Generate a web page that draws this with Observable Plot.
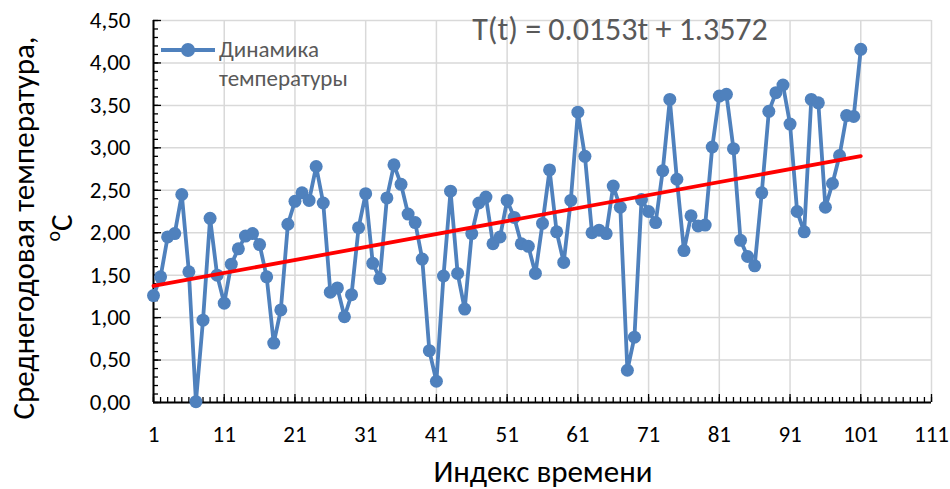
<!DOCTYPE html>
<html>
<head>
<meta charset="utf-8">
<script src="https://cdn.jsdelivr.net/npm/d3@7"></script>
<script src="https://cdn.jsdelivr.net/npm/@observablehq/plot@0.6"></script>
<style>
  html, body { margin: 0; padding: 0; background: #fff; }
  #chart svg { display: block; }
</style>
</head>
<body>
<div id="chart"></div>
<script>
// Time index and yearly mean temperature (°C)
const timeIndex = d3.range(1, 102);
const temperature = [
  1.26, 1.48, 1.95, 1.99, 2.45, 1.54, 0.01, 0.97, 2.17, 1.50,
  1.17, 1.63, 1.81, 1.96, 1.99, 1.86, 1.48, 0.70, 1.09, 2.10,
  2.37, 2.47, 2.38, 2.78, 2.35, 1.30, 1.35, 1.01, 1.27, 2.06,
  2.46, 1.64, 1.46, 2.41, 2.80, 2.57, 2.22, 2.12, 1.69, 0.61,
  0.25, 1.49, 2.49, 1.52, 1.10, 1.99, 2.35, 2.42, 1.87, 1.95,
  2.38, 2.18, 1.87, 1.84, 1.52, 2.11, 2.74, 2.01, 1.65, 2.38,
  3.42, 2.90, 2.00, 2.03, 1.99, 2.55, 2.30, 0.38, 0.77, 2.39,
  2.25, 2.12, 2.73, 3.57, 2.63, 1.79, 2.20, 2.08, 2.09, 3.01,
  3.61, 3.63, 2.99, 1.91, 1.72, 1.61, 2.47, 3.43, 3.65, 3.74,
  3.28, 2.25, 2.01, 3.57, 3.53, 2.30, 2.58, 2.91, 3.38, 3.37,
  4.16
];
// Linear trend T(t) = slope * t + intercept
const trendSlope = 0.0153;
const trendIntercept = 1.3572;
const trendRange = [1, 101];

// Axis ticks
const xTicks = [1, 11, 21, 31, 41, 51, 61, 71, 81, 91, 101, 111];
const xMinorTicks = d3.range(1, 112);
const yTicks = [0, 0.5, 1, 1.5, 2, 2.5, 3, 3.5, 4, 4.5];
const yMinorTicks = d3.range(0, 46).map(d => d / 10);

const series = timeIndex.map((t, i) => ({t, v: temperature[i]}));
const trend = trendRange.map(t => ({t, v: trendSlope * t + trendIntercept}));

const FONT = "Carlito, Lato, 'Open Sans', sans-serif";
const blue = "#4f81bd";

const chart = Plot.plot({
  width: 950,
  height: 489,
  marginLeft: 153,
  marginRight: 19,
  marginTop: 20,
  marginBottom: 87,
  style: {fontFamily: FONT, fontSize: "23px", color: "#000", background: "#fff", overflow: "visible"},
  x: {domain: [1, 111]},
  y: {domain: [0, 4.5]},
  marks: [
    Plot.gridY(yTicks, {stroke: "#d9d9d9", strokeOpacity: 1, strokeWidth: 1.5}),
    Plot.gridX(xTicks, {stroke: "#d9d9d9", strokeOpacity: 1, strokeWidth: 1.5}),
    Plot.axisY(yMinorTicks, {tickSize: -5, tickFormat: () => "", label: null, stroke: "#000", strokeWidth: 1.3}),
    Plot.axisY(yTicks, {tickSize: -8, tickPadding: 31, tickFormat: d => d.toFixed(2).replace(".", ","), label: null, fill: "#000", stroke: "#000", strokeWidth: 1.3, fontSize: 23}),
    Plot.axisX(xMinorTicks, {tickSize: -5, tickFormat: () => "", label: null, stroke: "#000", strokeWidth: 1.3}),
    Plot.axisX(xTicks, {tickSize: -8, tickPadding: 31, tickFormat: d => String(d), label: null, fill: "#000", stroke: "#000", strokeWidth: 1.3, fontSize: 23}),
    Plot.ruleX([1], {stroke: "#000", strokeWidth: 2}),
    Plot.ruleY([0], {stroke: "#000", strokeWidth: 2}),
    Plot.line(series, {x: "t", y: "v", stroke: blue, strokeWidth: 3.8}),
    Plot.dot(series, {x: "t", y: "v", r: 6.5, fill: blue, stroke: "none"}),
    Plot.line(trend, {x: "t", y: "v", stroke: "#ff0000", strokeWidth: 3.8})
  ]
});

document.getElementById("chart").appendChild(chart);

const svg = d3.select(chart);
// Tick labels: enforce size
svg.selectAll("text").style("font-size", "23px").style("font-family", FONT);

// Y axis title (two lines, rotated)
const yTitle = svg.append("text")
  .attr("transform", "translate(34,228) rotate(-90)")
  .style("text-anchor", "middle")
  .style("font-family", FONT)
  .style("font-size", "31px")
  .style("fill", "#000");
yTitle.append("tspan").attr("x", 0).attr("y", 0).text("Среднегодовая температура,");
const l2 = yTitle.append("tspan").attr("x", 0).attr("y", 38);
l2.append("tspan").style("font-size", "20px").attr("dy", -12).text("o");
l2.append("tspan").attr("dy", 12).text("C");

// X axis title
svg.append("text")
  .attr("x", 543).attr("y", 482)
  .style("text-anchor", "middle")
  .style("font-family", FONT)
  .style("font-size", "31px")
  .style("fill", "#000")
  .text("Индекс времени");

// Trend equation
svg.append("text")
  .attr("x", 620).attr("y", 40)
  .style("text-anchor", "middle")
  .style("font-family", FONT)
  .style("font-size", "32px")
  .style("fill", "#595959")
  .text(`T(t) = ${trendSlope}t + ${trendIntercept}`);

// Legend
const lg = svg.append("g");
lg.append("line").attr("x1", 161).attr("x2", 215).attr("y1", 50).attr("y2", 50)
  .attr("stroke", blue).attr("stroke-width", 3.8);
lg.append("circle").attr("cx", 188).attr("cy", 50).attr("r", 7).attr("fill", blue);
[["Динамика", 57], ["температуры", 86]].forEach(([s, y]) => {
  lg.append("text").attr("x", 219).attr("y", y)
    .style("text-anchor", "start")
    .style("font-family", FONT)
    .style("font-size", "23px")
    .style("fill", "#595959")
    .text(s);
});
</script>
</body>
</html>
